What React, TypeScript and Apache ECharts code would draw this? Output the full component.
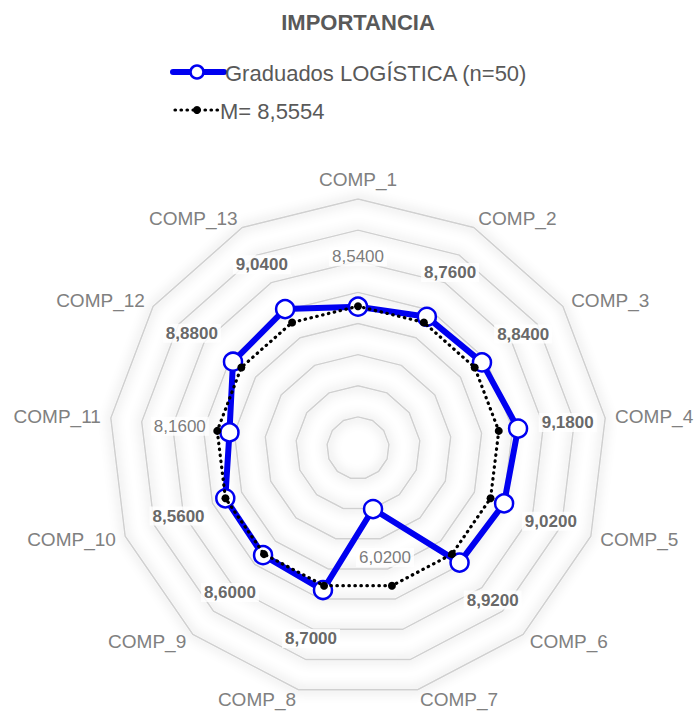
import React, { useEffect, useRef } from "react";
import * as echarts from "echarts";

const categories = [
  "COMP_1", "COMP_2", "COMP_3", "COMP_4", "COMP_5", "COMP_6", "COMP_7",
  "COMP_8", "COMP_9", "COMP_10", "COMP_11", "COMP_12", "COMP_13",
];
const graduados = [8.54, 8.76, 8.84, 9.18, 9.02, 8.92, 6.02, 8.7, 8.6, 8.56, 8.16, 8.88, 9.04];
const media = [
  8.5554, 8.5554, 8.5554, 8.5554, 8.5554, 8.5554, 8.5554,
  8.5554, 8.5554, 8.5554, 8.5554, 8.5554, 8.5554,
];
const meanValue = 8.5554;
const seriesNames = ["Graduados LOGÍSTICA (n=50)", "M= 8,5554"];
const titleText = "IMPORTANCIA";
const axisMin = 4;
const axisMax = 12;
const splitCount = 8;

const FONT = "'Liberation Sans', Arial, sans-serif";
const fmt = (v: number) => v.toFixed(4).replace(".", ",");

export default function App() {
  const ref = useRef<HTMLDivElement>(null);
  useEffect(() => {
    if (!ref.current) return;
    const chart = echarts.init(ref.current, null, { renderer: "svg" });
    const n = categories.length;
    // ECharts radar lays indicators out counter-clockwise; reorder so they run clockwise
    const order = [0, ...categories.map((_, i) => n - 1 - i).slice(0, n - 1)];
    const labelGap = 50;
    const labelData = graduados.map((v, i) => {
      const a = (i * 2 * Math.PI) / n;
      const above = v >= meanValue;
      return {
        value: [v, categories[i]],
        label: {
          offset: [labelGap * Math.sin(a), -labelGap * Math.cos(a)],
          fontWeight: above ? "bold" : "normal",
          color: above ? "#404040" : "#595959",
        },
      };
    });
    const center = [358, 448];
    const radius = 249;
    chart.setOption({
      animation: false,
      title: {
        text: titleText,
        left: 358,
        textAlign: "center",
        top: 11,
        padding: 0,
        textStyle: { fontSize: 22, fontWeight: "bold", color: "#595959", fontFamily: FONT },
      },
      radar: {
        center,
        radius,
        startAngle: 90,
        shape: "polygon",
        splitNumber: splitCount,
        nameGap: 10,
        indicator: order.map((i) => ({ name: categories[i], min: axisMin, max: axisMax })),
        axisName: { color: "#808080", fontSize: 19, fontFamily: FONT },
        axisLine: { show: false },
        axisTick: { show: false },
        axisLabel: { show: false },
        splitArea: { show: false },
        splitLine: {
          lineStyle: {
            color: "#d0d0d0",
            width: 1.5,
            shadowBlur: 12,
            shadowColor: "rgba(0,0,0,0.4)",
          },
        },
      },
      polar: { center, radius },
      angleAxis: {
        type: "category",
        data: categories,
        boundaryGap: false,
        startAngle: 90,
        clockwise: true,
        show: false,
      },
      radiusAxis: { type: "value", min: axisMin, max: axisMax, show: false },
      series: [
        {
          type: "radar",
          name: seriesNames[0],
          z: 2,
          symbol: "circle",
          symbolSize: 18,
          lineStyle: { color: "#0000f0", width: 6 },
          itemStyle: { color: "#ffffff", borderColor: "#0000f0", borderWidth: 2.5 },
          data: [{ value: order.map((i) => graduados[i]), name: seriesNames[0] }],
        },
        {
          type: "radar",
          name: seriesNames[1],
          z: 3,
          symbol: "circle",
          symbolSize: 8,
          lineStyle: { color: "#000000", width: 3.2, type: [0.5, 5.5], cap: "round" },
          itemStyle: { color: "#000000" },
          data: [{ value: order.map((i) => media[i]), name: seriesNames[1] }],
        },
        {
          type: "scatter",
          coordinateSystem: "polar",
          z: 5,
          silent: true,
          symbolSize: 1,
          itemStyle: { color: "rgba(0,0,0,0)" },
          label: {
            show: true,
            position: "inside",
            formatter: (p: any) => fmt(p.value[0]),
            fontSize: 17,
            fontFamily: FONT,
            backgroundColor: "#ffffff",
            padding: [1, 3],
          },
          data: labelData,
        },
      ],
      graphic: [
        { type: "line", shape: { x1: 173, y1: 72, x2: 224, y2: 72 }, style: { stroke: "#0000f0", lineWidth: 6, lineCap: "round" } },
        { type: "circle", shape: { cx: 197, cy: 72, r: 6.5 }, style: { fill: "#ffffff", stroke: "#0000f0", lineWidth: 2.5 } },
        {
          type: "text", x: 225, y: 73,
          style: { text: seriesNames[0], fill: "#595959", fontSize: 22, fontFamily: FONT, verticalAlign: "middle" },
        },
        {
          type: "line", shape: { x1: 175, y1: 110, x2: 219, y2: 110 },
          style: { stroke: "#000000", lineWidth: 3.2, lineDash: [0.5, 5.5], lineCap: "round" },
        },
        { type: "circle", shape: { cx: 197, cy: 110, r: 4 }, style: { fill: "#000000" } },
        {
          type: "text", x: 220, y: 111,
          style: { text: seriesNames[1], fill: "#595959", fontSize: 22, fontFamily: FONT, verticalAlign: "middle" },
        },
      ],
    });
    return () => chart.dispose();
  }, []);
  return <div ref={ref} style={{ position: "absolute", left: 0, top: 0, width: 696, height: 713 }} />;
}
